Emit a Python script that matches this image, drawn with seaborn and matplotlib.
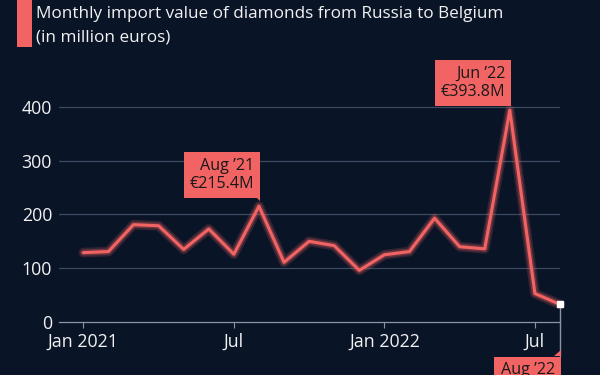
import matplotlib
matplotlib.use("Agg")
import matplotlib.pyplot as plt
import matplotlib.patheffects as pe
from matplotlib.patches import Polygon, Rectangle
import seaborn as sns
import pandas as pd

months = ["Jan 2021", "Feb 2021", "Mar 2021", "Apr 2021", "May 2021", "Jun 2021",
          "Jul 2021", "Aug 2021", "Sep 2021", "Oct 2021", "Nov 2021", "Dec 2021",
          "Jan 2022", "Feb 2022", "Mar 2022", "Apr 2022", "May 2022", "Jun 2022",
          "Jul 2022", "Aug 2022"]
values = [129, 131, 181, 179, 135, 173, 126, 215.4, 111, 150, 142, 96,
          125, 131, 193, 140, 136, 393.8, 53, 32.6]
tick_labels = ["Jan 2021", "Jul", "Jan 2022", "Jul"]
tick_idx = [0, 6, 12, 18]
yticks = [0, 100, 200, 300, 400]
title = "Monthly import value of diamonds from Russia to Belgium\n(in million euros)"

BG = "#0a1427"
RED = "#f26363"
GRID = "#3b4a5f"
TXT = "#f2f2f2"

sns.set_theme(style="dark")
plt.rcParams["font.family"] = ["Open Sans", "DejaVu Sans"]

df = pd.DataFrame({"idx": range(len(values)), "value": values, "month": months})

fig = plt.figure(figsize=(6, 3.75), dpi=100, facecolor=BG)
ax = fig.add_axes([59 / 600, 1 - 322 / 375, (560 - 59) / 600, (322 - 80) / 375])
ax.set_facecolor(BG)

sns.lineplot(data=df, x="idx", y="value", ax=ax, color=RED, linewidth=2.2,
             path_effects=[pe.Stroke(linewidth=7, foreground=RED, alpha=0.18),
                           pe.Stroke(linewidth=4.5, foreground=RED, alpha=0.28),
                           pe.Normal()], zorder=5, clip_on=False)

ax.set_xlim(-0.97, 19)
ax.set_ylim(0, 450)
ax.set_yticks(yticks)
ax.set_yticklabels([str(v) for v in yticks], color=TXT, fontsize=12.8)
ax.set_xticks(tick_idx)
ax.set_xticklabels(tick_labels, color=TXT, fontsize=12.8)
ax.tick_params(axis="y", length=0, pad=5)
ax.tick_params(axis="x", length=4, width=0.8, color="#8a96a6", pad=4, bottom=True)
ax.set_xlabel("")
ax.set_ylabel("")
for y in yticks[1:]:
    ax.axhline(y, color=GRID, linewidth=0.9, zorder=1)
ax.grid(False)
for s in ["top", "right", "left"]:
    ax.spines[s].set_visible(False)
ax.spines["bottom"].set_color("#8a96a6")
ax.spines["bottom"].set_linewidth(0.9)

# Annotations
def callout(i, label, dy, va):
    v = values[i]
    txt = f"{label}\n€{v}M"
    ax.annotate(txt, xy=(i, v), xytext=(-4.5, dy), textcoords="offset pixels",
                ha="right", va=va, fontsize=11.6, color="#1a1a1a",
                multialignment="right", linespacing=1.2, zorder=10,
                annotation_clip=False,
                bbox=dict(boxstyle="square,pad=0.35", fc=RED, ec="none"))

callout(7, "Aug ’21", 14, "bottom")
callout(17, "Jun ’22", 10, "bottom")
callout(19, "Aug ’22", -58, "top")

inv = ax.transData.inverted()
for i, gap in [(7, 13), (17, 9)]:
    base = ax.transData.transform((i, values[i]))
    pts_px = [(base[0] - 7, base[1] + gap + 0.5), (base[0] + 1.5, base[1] + gap + 0.5),
              (base[0] + 1.5, base[1] + 5)]
    ax.add_patch(Polygon([inv.transform(p) for p in pts_px], closed=True,
                         fc=RED, ec="none", zorder=10, clip_on=False))

# last point marker and leader line
base = ax.transData.transform((19, values[19]))
ax.plot([19, 19], [values[19], inv.transform((base[0], base[1] - 52))[1]],
        color="#8a96a6", linewidth=1, clip_on=False, zorder=4)
ax.plot([19], [values[19]], marker="s", color="white", markersize=4, zorder=7, clip_on=False)
pts_px = [(base[0] - 6, base[1] - 52), (base[0] + 0.5, base[1] - 52), (base[0] + 0.5, base[1] - 46)]
ax.add_patch(Polygon([inv.transform(p) for p in pts_px], closed=True,
                     fc=RED, ec="none", zorder=10, clip_on=False))

# title with red bar
fig.patches.append(Rectangle((17 / 600, 1 - 47 / 375), 15 / 600, 47 / 375,
                             transform=fig.transFigure, fc=RED, ec="none"))
fig.text(36 / 600, 1 - 6 / 375, title, ha="left", va="top", color=TXT,
         fontsize=12.3, linespacing=1.65)

fig.savefig("out.png", dpi=100, facecolor=BG)
